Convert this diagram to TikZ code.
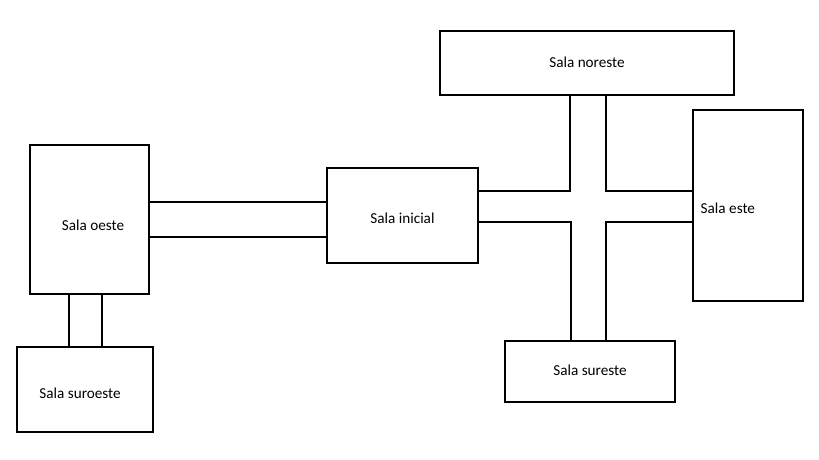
\documentclass[tikz,border=0pt]{standalone}
\usepackage{fontspec}
\setmainfont{Carlito}
\tikzset{
  room/.style 2 args={draw=black, line width=0.8pt, fill=white, inner sep=0pt,
    minimum width=#1*0.75pt, minimum height=#2*0.75pt,
    font=\fontsize{11.4pt}{13pt}\selectfont},
  txt/.style={font=\fontsize{11.4pt}{13pt}\selectfont, inner sep=0pt},
  wall/.style={draw=black, line width=0.8pt}
}
\begin{document}
\begin{tikzpicture}[x=0.75pt, y=-0.75pt]
\useasboundingbox[fill=white] (0,0) rectangle (819,460);
% rooms
\node[room={119}{149}, label={[txt, xshift=2.6pt, yshift=-4.2pt]center:Sala oeste}] (oeste) at (89.5,219.5) {};
\node[room={136}{85}, label={[txt, xshift=-3.7pt, yshift=-2.8pt]center:Sala suroeste}] (suroeste) at (85,389.5) {};
\node[room={151}{95}, label={[txt, yshift=-2pt]center:Sala inicial}] (inicial) at (402.5,215.5) {};
\node[room={294}{64}, label={[txt, yshift=0.6pt]center:Sala noreste}] (noreste) at (587,63) {};
\node[room={110}{191}, label={[txt, anchor=west, xshift=6pt, yshift=-2pt]west:Sala este}] (este) at (748,205.5) {};
\node[room={170}{61}, label={[txt, yshift=0.6pt]center:Sala sureste}] (sureste) at (590,371.5) {};
% corridor oeste - inicial
\draw[wall] (oeste.east |- 0,202) -- (inicial.west |- 0,202);
\draw[wall] (oeste.east |- 0,237) -- (inicial.west |- 0,237);
% corridor oeste - suroeste
\draw[wall] (oeste.south -| 69,0) -- (suroeste.north -| 69,0);
\draw[wall] (oeste.south -| 102,0) -- (suroeste.north -| 102,0);
% cross corridor
\coordinate (c1) at (570,191);
\coordinate (c2) at (606,191);
\coordinate (c3) at (571,222);
\coordinate (c4) at (606,222);
\draw[wall] (inicial.east |- c1) -- (c1) -- (noreste.south -| c1);
\draw[wall] (noreste.south -| c2) -- (c2) -- (este.west |- c2);
\draw[wall] (inicial.east |- c3) -- (c3) -- (sureste.north -| c3);
\draw[wall] (sureste.north -| c4) -- (c4) -- (este.west |- c4);
\end{tikzpicture}
\end{document}
